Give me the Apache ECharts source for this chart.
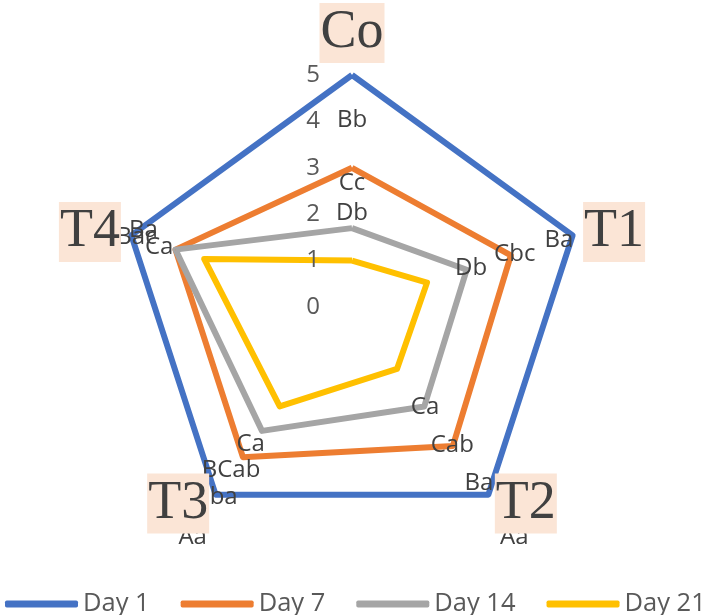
<!DOCTYPE html>
<html>
<head>
<meta charset="utf-8">
<script src="https://cdn.jsdelivr.net/npm/echarts@6/dist/echarts.min.js"></script>
<style>
html, body { margin: 0; padding: 0; background: #fff; }
#main { width: 710px; height: 615px; }
</style>
</head>
<body>
<div id="main"></div>
<script>
// indicator names (axes) and series
var indicators = ['Co', 'T1', 'T2', 'T3', 'T4'];
var dayNames = ['Day 1', 'Day 7', 'Day 14', 'Day 21'];

// values, order Co, T1, T2, T3, T4
var day1 = [5, 5, 5, 5, 5];
var day7 = [3.0, 3.6, 3.7, 4.0, 4.0];
var day14 = [1.7, 2.6, 2.65, 3.3, 4.0];
var day21 = [1.0, 1.7, 1.65, 2.65, 3.35];

// significance letters at each point
var day1Letters = ['', '', 'Aa', 'Aa', ''];
var day7Letters = ['Bb', 'Ba', 'Ba', 'Bba', 'Ba'];
var day14Letters = ['Cc', 'Cbc', 'Cab', 'BCab', 'Bac'];
var day21Letters = ['Db', 'Db', 'Ca', 'Ca', 'Ca'];

var dayValues = [day1, day7, day14, day21];
var dayLetters = [day1Letters, day7Letters, day14Letters, day21Letters];
var colors = ['#4472C4', '#ED7D31', '#A5A5A5', '#FFC000'];

// radar runs counter-clockwise, the picture runs clockwise
var axisOrder = [0, 4, 3, 2, 1];
function reorder(arr) {
    return axisOrder.map(function (i) { return arr[i]; });
}

// where each letter sits relative to its point [dx, dy], order Co..T4
var labelShift = [
    [[0, -47], [46, -15], [26, 42], [-23, 42], [-38, -14]],
    [[0, -48], [48, -15], [26, 37], [-27, 40], [-32, -19]],
    [[0, -45], [48, -16], [28, 39], [-31, 39], [-39, -12]],
    [[0, -47], [44, -14], [28, 38], [-29, 38], [-45, -12]]
];

function richFor(shifts) {
    var rich = {};
    shifts.forEach(function (s, i) {
        var dx = s[0], dy = s[1];
        rich['d' + i] = {
            fontSize: 24,
            fontFamily: 'Open Sans',
            color: '#404040',
            padding: [Math.max(0, 2 * dy), Math.max(0, -2 * dx), Math.max(0, -2 * dy), Math.max(0, 2 * dx)]
        };
    });
    return rich;
}

var myChart = echarts.init(document.getElementById('main'));

var series = dayNames.map(function (name, k) {
    var letters = reorder(dayLetters[k]);
    return {
        name: name,
        type: 'radar',
        z: 2,
        symbol: 'circle',
        symbolSize: 1,
        color: colors[k],
        lineStyle: { width: 6, color: colors[k] },
        itemStyle: { color: colors[k] },
        label: {
            show: true,
            position: 'inside',
            formatter: function (p) {
                var t = letters[p.dimensionIndex];
                if (!t) return '';
                return '{d' + p.dimensionIndex + '|' + t + '}';
            },
            rich: richFor(reorder(labelShift[k]))
        },
        data: [{ name: name, value: reorder(dayValues[k]) }]
    };
});

var option = {
    animation: false,
    backgroundColor: '#fff',
    legend: {
        data: dayNames,
        left: 0,
        top: 586,
        width: 900,
        icon: 'roundRect',
        itemWidth: 73,
        itemHeight: 7,
        itemGap: 31,
        itemStyle: { borderWidth: 0 },
        textStyle: { fontSize: 25.5, color: '#595959', fontFamily: 'Open Sans' }
    },
    radar: {
        z: 3,
        center: [352, 307],
        radius: 232,
        shape: 'polygon',
        splitNumber: 5,
        nameGap: 11,
        axisName: {
            color: '#404040',
            fontFamily: 'Liberation Serif',
            fontSize: 54,
            lineHeight: 60,
            backgroundColor: '#FBE5D6',
            padding: [0, 1]
        },
        axisLine: { show: false },
        splitLine: { show: false },
        splitArea: { show: false },
        axisTick: { show: false },
        axisLabel: {
            show: false,
            color: '#595959',
            fontSize: 24,
            fontFamily: 'Open Sans',
            margin: 32
        },
        indicator: reorder(indicators).map(function (n, i) {
            return {
                name: n,
                min: 0,
                max: 5,
                axisLabel: { show: i === 0 }
            };
        })
    },
    series: series
};

myChart.setOption(option);
</script>
</body>
</html>
